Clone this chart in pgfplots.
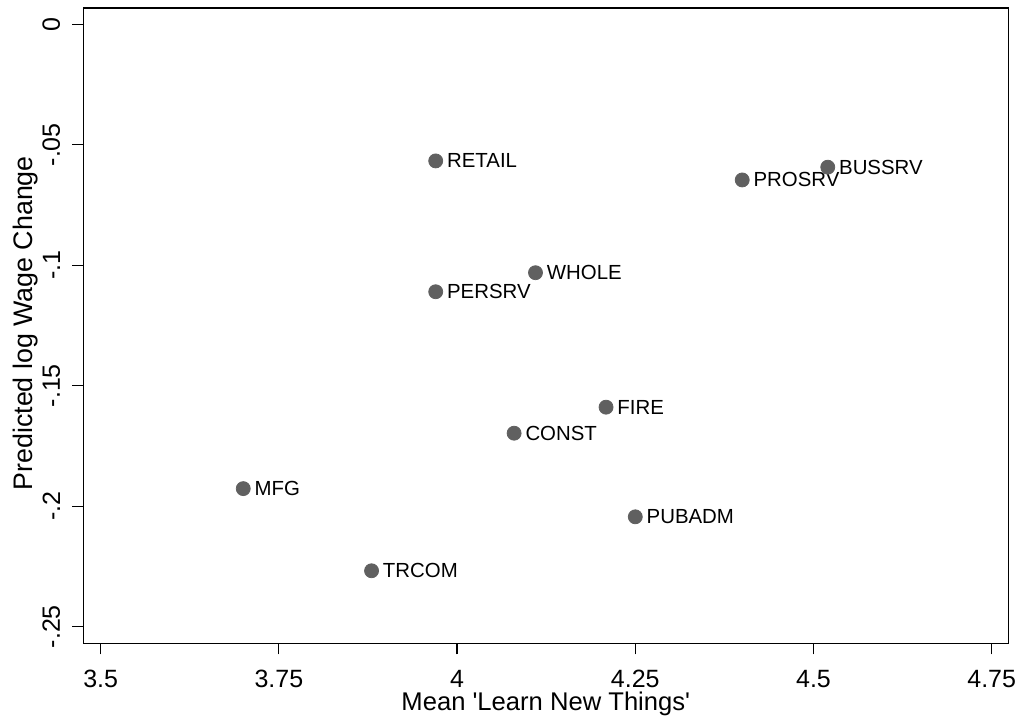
\documentclass[border=0pt]{standalone}
\usepackage{fontspec}
\setmainfont{Liberation Sans}[Ligatures=TeXOff]
\usepackage{pgfplots}
\pgfplotsset{compat=1.18}
\definecolor{markgray}{RGB}{96,96,96}
\begin{document}
\begin{tikzpicture}
\begin{axis}[
  at={(0,0)}, anchor=south west,
  scale only axis, width=462.5pt, height=317.65pt,
  xmin=3.4756, xmax=4.7733, ymin=-0.2569, ymax=0.00676,
  xtick={3.5,3.75,4,4.25,4.5,4.75},
  ytick={-0.25,-0.2,-0.15,-0.1,-0.05,0},
  xtick pos=bottom, ytick pos=left,
  tick align=outside, major tick length=5.5pt,
  tick style={black, line width=0.6pt},
  axis line style={black, line width=0.7pt},
  ticklabel style={font=\fontsize{12.5}{15}\selectfont},
  yticklabel style={rotate=90, anchor=south},
  xticklabel shift=4.5pt, yticklabel shift=2.5pt,
  /pgf/number format/.cd, fixed, skip 0.=true, assume math mode=true,
  /pgfplots/.cd,
  xlabel={Mean 'Learn New Things'},
  ylabel={Predicted log Wage Change},
  xlabel style={font=\fontsize{12.8}{15}\selectfont, at={(axis description cs:0.5,0)}, anchor=base, yshift=-33.4pt},
  ylabel style={font=\fontsize{13.4}{15}\selectfont, at={(axis description cs:0,0.5)}, anchor=base, yshift=25.3pt, xshift=1.2pt},
]
\addplot[only marks, mark=*, mark size=3.5pt,
  mark options={fill=markgray, draw=markgray},
  point meta=explicit symbolic, nodes near coords,
  every node near coord/.append style={anchor=west, inner sep=0pt, xshift=5.5pt,
    font=\fontsize{10.2}{12}\selectfont, text=black}]
coordinates {
(3.970,-0.0567) [RETAIL]
(4.110,-0.1031) [WHOLE]
(3.970,-0.1110) [PERSRV]
(4.209,-0.1589) [FIRE]
(4.080,-0.1697) [CONST]
(3.700,-0.1927) [MFG]
(4.250,-0.2044) [PUBADM]
(3.880,-0.2268) [TRCOM]
(4.400,-0.0646) [PROSRV]
(4.520,-0.0593) [BUSSRV]
};
\end{axis}
\pgfresetboundingbox
\path[use as bounding box] (-41.65pt,-37.85pt) rectangle (469.85pt,321.65pt);
\end{tikzpicture}
\end{document}
